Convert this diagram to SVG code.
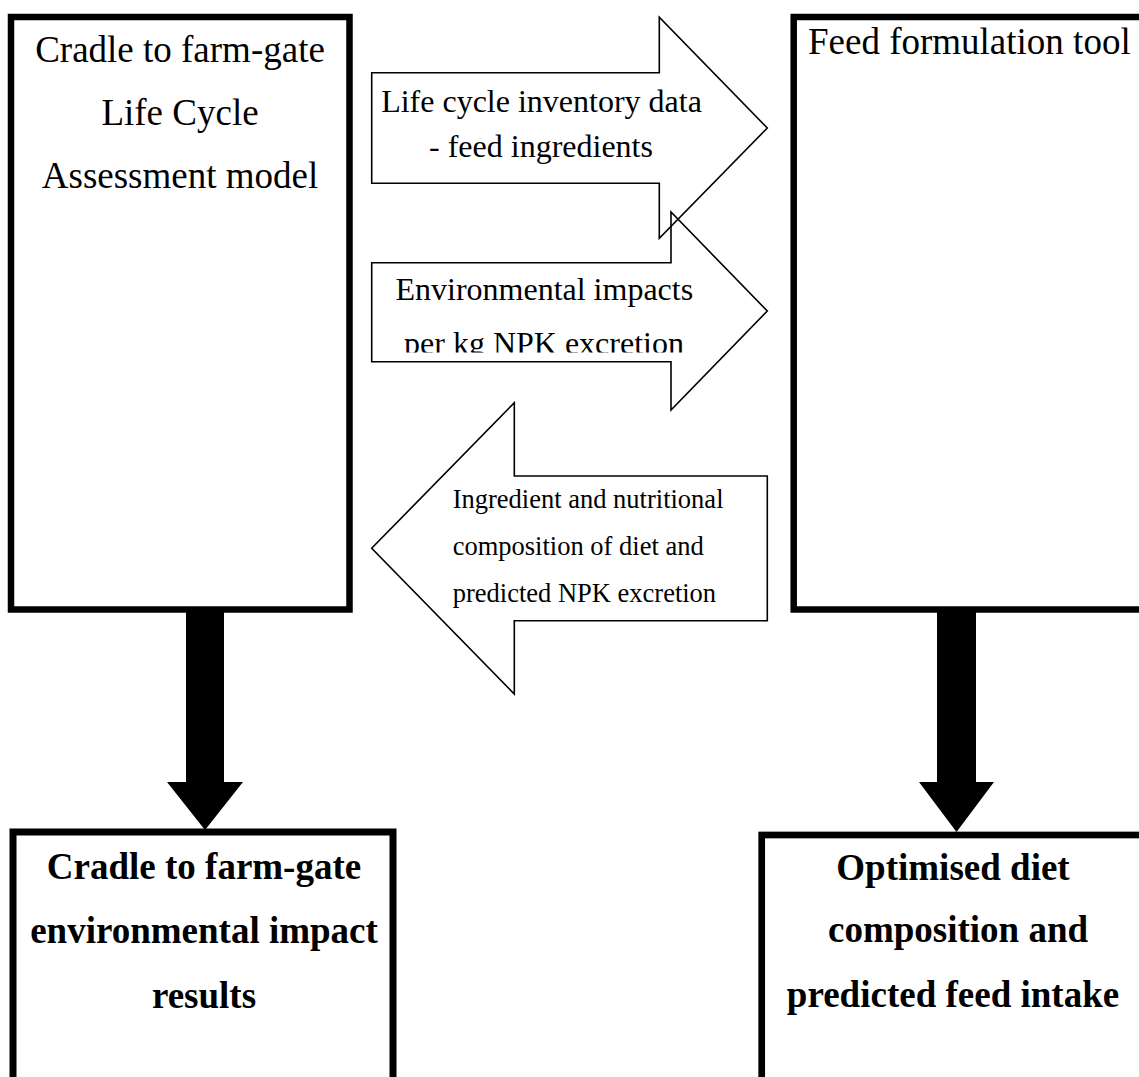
<svg xmlns="http://www.w3.org/2000/svg" width="1139" height="1077" viewBox="0 0 1139 1077">
  <style>
    .box { fill: #ffffff; stroke: #000000; stroke-width: 6.5; }
    .blk { fill: none; stroke: #000000; stroke-width: 1.6; stroke-linejoin: miter; }
    .down { fill: #000000; stroke: none; }
    .t { font-family: "Liberation Serif", "Times New Roman", serif; fill: #000000; }
    .big { font-size: 37px; }
    .mid { font-size: 32px; }
    .sm { font-size: 26.5px; }
    .b { font-weight: bold; }
  </style>
  <defs>
    <clipPath id="clipNpk">
      <rect x="370" y="320" width="400" height="32.5"/>
    </clipPath>
  </defs>
  <rect width="1139" height="1077" fill="#ffffff"/>

  <g id="lca-model">
    <rect class="box" x="11" y="17" width="338.5" height="592.5"/>
    <text class="t big" text-anchor="middle" x="180" y="62">Cradle to farm-gate</text>
    <text class="t big" text-anchor="middle" x="180" y="125">Life Cycle</text>
    <text class="t big" text-anchor="middle" x="180" y="188">Assessment model</text>
  </g>

  <g id="feed-tool">
    <rect class="box" x="793.7" y="17" width="360" height="592.5"/>
    <text class="t big" x="808" y="53.5">Feed formulation tool</text>
  </g>

  <g id="lca-results">
    <rect class="box" x="13" y="832" width="380" height="270" style="stroke-width:7"/>
    <text class="t big b" text-anchor="middle" x="204" y="879">Cradle to farm-gate</text>
    <text class="t big b" text-anchor="middle" x="204" y="943">environmental impact</text>
    <text class="t big b" text-anchor="middle" x="204" y="1008">results</text>
  </g>

  <g id="optimised-diet">
    <rect class="box" x="761.7" y="835" width="400" height="270" style="stroke-width:6.7"/>
    <text class="t big b" text-anchor="middle" x="953" y="880">Optimised diet</text>
    <text class="t big b" text-anchor="middle" x="958" y="942">composition and</text>
    <text class="t big b" text-anchor="middle" x="953" y="1007">predicted feed intake</text>
  </g>

  <g id="connectors">
    <polygon class="down" points="186,609 224,609 224,782 243,782 205,830 167,782 186,782"/>
    <polygon class="down" points="937,609 976,609 976,782 994,782 956.5,832 919,782 937,782"/>

    <g id="arrow-lci">
      <polygon class="blk" points="371.7,72.7 659.3,72.7 659.3,17.3 767.3,128 659.3,238.3 659.3,183.3 371.7,183.3"/>
      <text class="t mid" text-anchor="middle" x="541.5" y="111.7">Life cycle inventory data</text>
      <text class="t mid" text-anchor="middle" x="541" y="156.7">- feed ingredients</text>
    </g>

    <g id="arrow-impacts">
      <polygon class="blk" points="371.7,262.7 671,262.7 671,212 767.3,311 671,410 671,361.7 371.7,361.7"/>
      <text class="t mid" text-anchor="middle" x="544.3" y="300">Environmental impacts</text>
      <text class="t mid" text-anchor="middle" x="544" y="354" clip-path="url(#clipNpk)">per kg NPK excretion</text>
    </g>

    <g id="arrow-composition">
      <polygon class="blk" points="767.3,476 514.3,476 514.3,402.7 371.7,548.3 514.3,694 514.3,620.7 767.3,620.7"/>
      <text class="t sm" x="452.7" y="508.3">Ingredient and nutritional</text>
      <text class="t sm" x="452.7" y="555">composition of diet and</text>
      <text class="t sm" x="452.7" y="601.7">predicted NPK excretion</text>
    </g>
  </g>
</svg>
